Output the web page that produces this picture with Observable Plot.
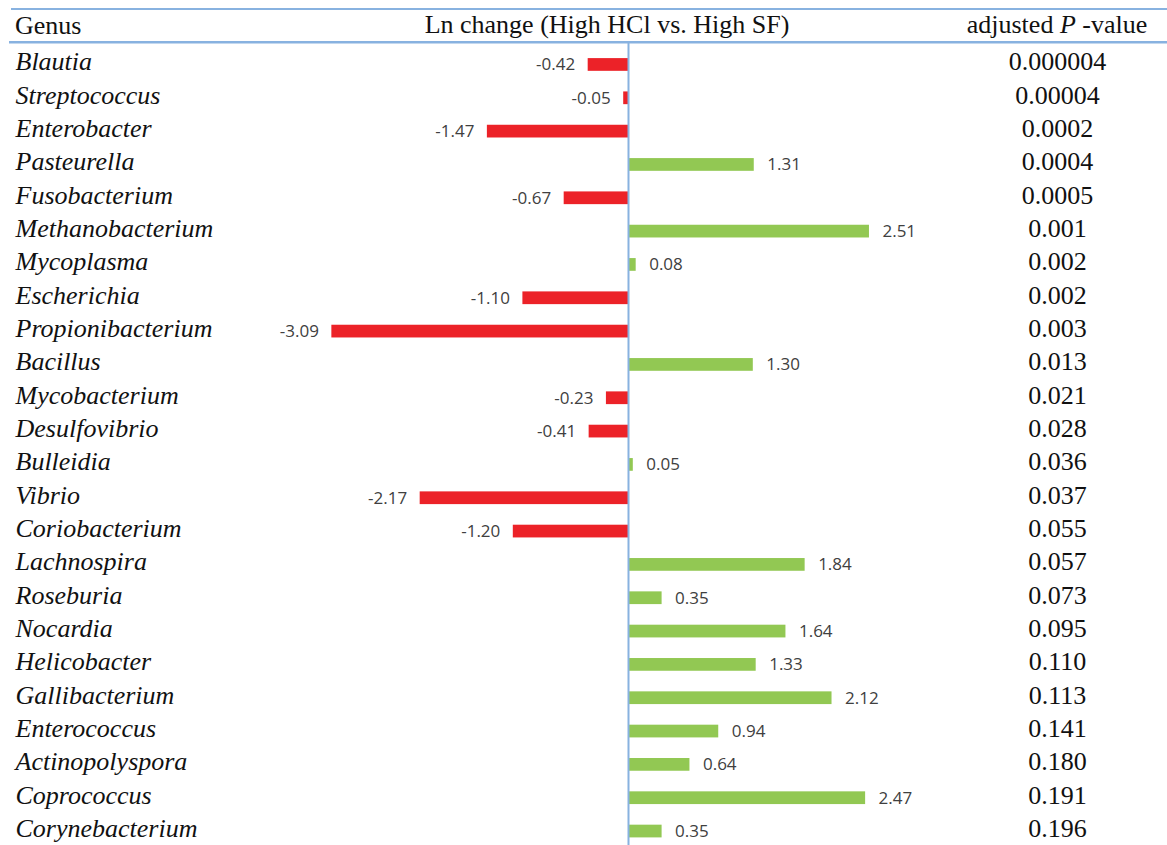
<!DOCTYPE html>
<html>
<head>
<meta charset="utf-8">
<script src="https://cdn.jsdelivr.net/npm/d3@7"></script>
<script src="https://cdn.jsdelivr.net/npm/@observablehq/plot@0.6"></script>
<style>
  html, body { margin: 0; padding: 0; background: #fff; }
  #wrap { position: relative; width: 1167px; height: 845px; overflow: hidden; background: #fff; }
  #chart { position: absolute; left: 0; top: 42px; }
  #header { position: absolute; left: 0; top: 0; }
</style>
</head>
<body>
<div id="wrap"><div id="chart"></div><div id="header"></div></div>
<script>
const genera = ["Blautia","Streptococcus","Enterobacter","Pasteurella","Fusobacterium","Methanobacterium","Mycoplasma","Escherichia","Propionibacterium","Bacillus","Mycobacterium","Desulfovibrio","Bulleidia","Vibrio","Coriobacterium","Lachnospira","Roseburia","Nocardia","Helicobacter","Gallibacterium","Enterococcus","Actinopolyspora","Coprococcus","Corynebacterium"];
const lnChange = [-0.42,-0.05,-1.47,1.31,-0.67,2.51,0.08,-1.10,-3.09,1.30,-0.23,-0.41,0.05,-2.17,-1.20,1.84,0.35,1.64,1.33,2.12,0.94,0.64,2.47,0.35];
const pValues = ["0.000004","0.00004","0.0002","0.0004","0.0005","0.001","0.002","0.002","0.003","0.013","0.021","0.028","0.036","0.037","0.055","0.057","0.073","0.095","0.110","0.113","0.141","0.180","0.191","0.196"];
const headers = ["Genus", "Ln change (High HCl vs. High SF)", "adjusted ", "P", " -value"];

const rows = genera.map((g, i) => ({genus: g, value: lnChange[i], p: pValues[i]}));

const W = 1167, H = 803;
const zeroX = 628, pxPerUnit = 96;
const serif = "'Liberation Serif', 'Times New Roman', serif";
const sans = "'Open Sans', 'Liberation Sans', sans-serif";
const lineBlue = "#88b2e0";

const plot = Plot.plot({
  width: W,
  height: H,
  marginTop: 0, marginBottom: 0, marginLeft: 0, marginRight: 0,
  style: {background: "white", overflow: "visible"},
  x: {domain: [-zeroX / pxPerUnit, (W - zeroX) / pxPerUnit], range: [0, W], axis: null},
  y: {domain: genera, range: [5.8, 805.7], padding: 0, round: false, axis: null},
  marks: [
    Plot.barX(rows, {
      x1: 0, x2: "value", y: "genus",
      fill: d => d.value < 0 ? "#ec2228" : "#92c853",
      insetTop: 10.3, insetBottom: 10.3
    }),
    Plot.ruleX([0], {stroke: lineBlue, strokeWidth: 2}),
    Plot.text(rows.filter(d => d.value < 0), {
      x: "value", y: "genus", text: d => d.value.toFixed(2),
      textAnchor: "end", dx: -13, fill: "#404040",
      fontFamily: sans, fontSize: 17
    }),
    Plot.text(rows.filter(d => d.value >= 0), {
      x: "value", y: "genus", text: d => d.value.toFixed(2),
      textAnchor: "start", dx: 13, fill: "#404040",
      fontFamily: sans, fontSize: 17
    }),
    Plot.text(rows, {
      y: "genus", text: "genus", frameAnchor: "left", dx: 15, dy: -3,
      textAnchor: "start", fontStyle: "italic", fill: "#111",
      fontFamily: serif, fontSize: 26
    }),
    Plot.text(rows, {
      y: "genus", text: "p", frameAnchor: "right", dx: -110, dy: -3,
      textAnchor: "middle", fill: "#111",
      fontFamily: serif, fontSize: 26
    })
  ]
});
document.getElementById("chart").appendChild(plot);

// Table header (title row) above the chart
const hdr = d3.select("#header").append("svg")
  .attr("width", W).attr("height", 50)
  .style("overflow", "visible").style("display", "block");
hdr.append("line").attr("x1", 11).attr("x2", W).attr("y1", 9).attr("y2", 9)
  .attr("stroke", lineBlue).attr("stroke-width", 2);
hdr.append("line").attr("x1", 9).attr("x2", W).attr("y1", 42.3).attr("y2", 42.3)
  .attr("stroke", lineBlue).attr("stroke-width", 2.5);
hdr.append("text").attr("x", 15).attr("y", 34)
  .attr("font-family", serif).attr("font-size", 26).attr("fill", "#111")
  .text(headers[0]);
hdr.append("text").attr("x", 607).attr("y", 33).attr("text-anchor", "middle")
  .attr("font-family", serif).attr("font-size", 26).attr("fill", "#111")
  .text(headers[1]);
const pt = hdr.append("text").attr("x", 1057).attr("y", 33).attr("text-anchor", "middle")
  .attr("font-family", serif).attr("font-size", 26).attr("fill", "#111");
pt.append("tspan").text(headers[2]);
pt.append("tspan").attr("font-style", "italic").text(headers[3]);
pt.append("tspan").text(headers[4]);
</script>
</body>
</html>
